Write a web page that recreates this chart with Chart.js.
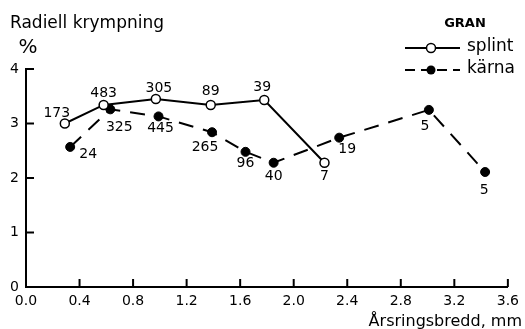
<!DOCTYPE html>
<html>
<head>
<meta charset="utf-8">
<script src="https://cdn.jsdelivr.net/npm/chart.js@4.4.1/dist/chart.umd.min.js"></script>
<style>
  body { margin: 0; background: #fff; }
  canvas { display: block; }
</style>
</head>
<body>
<canvas id="myCanvas" width="525" height="329"></canvas>
<script>
// splint (sapwood) - open circles, solid line
const splintX = [0.29, 0.58, 0.97, 1.38, 1.78, 2.23];
const splintY = [3.00, 3.34, 3.45, 3.34, 3.43, 2.28];
const splintN = [173, 483, 305, 89, 39, 7];

// kärna (heartwood) - filled circles, dashed line
const karnaX = [0.33, 0.63, 0.99, 1.39, 1.64, 1.85, 2.34, 3.01, 3.43];
const karnaY = [2.57, 3.26, 3.13, 2.84, 2.48, 2.28, 2.74, 3.25, 2.11];
const karnaN = [24, 325, 445, 265, 96, 40, 19, 5, 5];

const xTicks = [0.0, 0.4, 0.8, 1.2, 1.6, 2.0, 2.4, 2.8, 3.2, 3.6];
const yTicks = [0, 1, 2, 3, 4];

const FONT = '"DejaVu Sans", sans-serif';

// where each count label sits relative to its marker
const splintLabelOffset = [[-8, -10], [0, -12], [3, -11], [0, -14], [-2, -13], [0, 14]];
const karnaLabelOffset = [[18, 7], [9, 18], [2, 12], [-7, 15], [0, 12], [0, 14], [8, 12], [-4, 16], [-1, 18]];

function toPoints(xs, ys) {
    var pts = [];
    for (var i = 0; i < xs.length; i++) {
        pts.push({ x: xs[i], y: ys[i] });
    }
    return pts;
}

const annotate = {
    id: 'annotate',
    afterDraw(chart) {
        const c = chart.ctx;
        const area = chart.chartArea;
        const xs = chart.scales.x;
        const ys = chart.scales.y;
        c.save();
        c.strokeStyle = '#000';
        c.fillStyle = '#000';
        c.lineWidth = 2;

        // inward tick marks
        for (const v of yTicks) {
            if (v === 0) continue;
            const py = ys.getPixelForValue(v);
            c.beginPath();
            c.moveTo(area.left, py);
            c.lineTo(area.left + 8, py);
            c.stroke();
        }
        for (const v of xTicks) {
            if (v === 0) continue;
            const px = xs.getPixelForValue(v);
            c.beginPath();
            c.moveTo(px, area.bottom);
            c.lineTo(px, area.bottom - 8);
            c.stroke();
        }

        // count labels
        c.font = '14px ' + FONT;
        c.textAlign = 'center';
        c.textBaseline = 'middle';
        const m0 = chart.getDatasetMeta(0).data;
        m0.forEach(function(p, i) {
            c.fillText(String(splintN[i]), p.x + splintLabelOffset[i][0], p.y + splintLabelOffset[i][1]);
        });
        const m1 = chart.getDatasetMeta(1).data;
        m1.forEach(function(p, i) {
            c.fillText(String(karnaN[i]), p.x + karnaLabelOffset[i][0], p.y + karnaLabelOffset[i][1]);
        });

        // titles
        c.textAlign = 'left';
        c.textBaseline = 'alphabetic';
        c.font = '17px ' + FONT;
        c.fillText('Radiell krympning', 10, 28);
        c.font = '20px ' + FONT;
        c.textAlign = 'center';
        c.fillText('%', 28, 53);
        c.font = '16px ' + FONT;
        c.textAlign = 'right';
        c.fillText('Årsringsbredd, mm', 522, 326);

        // legend
        c.font = 'bold 13px ' + FONT;
        c.textAlign = 'center';
        c.fillText('GRAN', 465, 27);

        c.lineWidth = 2;
        c.beginPath();
        c.moveTo(405, 48);
        c.lineTo(460, 48);
        c.stroke();
        c.beginPath();
        c.arc(431, 48, 4.5, 0, Math.PI * 2);
        c.fillStyle = '#fff';
        c.fill();
        c.lineWidth = 1.5;
        c.stroke();

        c.lineWidth = 2;
        c.setLineDash([10, 6]);
        c.beginPath();
        c.moveTo(405, 70);
        c.lineTo(460, 70);
        c.stroke();
        c.setLineDash([]);
        c.fillStyle = '#000';
        c.beginPath();
        c.arc(431, 70, 4.5, 0, Math.PI * 2);
        c.fill();

        c.font = '17px ' + FONT;
        c.textAlign = 'left';
        c.textBaseline = 'middle';
        c.fillText('splint', 467, 47);
        c.fillText('kärna', 467, 69);
        c.restore();
    }
};

const ctx = document.getElementById('myCanvas').getContext('2d');

const chart = new Chart(ctx, {
    type: 'scatter',
    data: {
        datasets: [{
            label: 'splint',
            data: toPoints(splintX, splintY),
            showLine: true,
            borderColor: '#000',
            borderWidth: 2,
            pointRadius: 4.5,
            pointBackgroundColor: '#fff',
            pointBorderColor: '#000',
            pointBorderWidth: 1.5,
        }, {
            label: 'kärna',
            data: toPoints(karnaX, karnaY),
            showLine: true,
            borderColor: '#000',
            borderWidth: 2,
            borderDash: [15, 10],
            pointRadius: 4.5,
            pointBackgroundColor: '#000',
            pointBorderColor: '#000',
            pointBorderWidth: 1,
        }]
    },
    options: {
        responsive: false,
        devicePixelRatio: 1,
        animation: false,
        layout: {
            padding: { left: 0, right: 13, top: 69, bottom: 0 }
        },
        plugins: {
            legend: { display: false },
            tooltip: { enabled: false },
        },
        scales: {
            x: {
                type: 'linear',
                min: 0,
                max: 3.6,
                afterBuildTicks: function(scale) {
                    scale.ticks = xTicks.map(function(v) { return { value: v }; });
                },
                afterFit: function(scale) { scale.height = 42; },
                grid: { drawOnChartArea: false, drawTicks: false },
                border: { display: true, color: '#000', width: 2 },
                ticks: {
                    color: '#000',
                    padding: 6,
                    maxRotation: 0,
                    font: { family: FONT, size: 14 },
                    callback: function(v) { return Number(v).toFixed(1); }
                }
            },
            y: {
                type: 'linear',
                min: 0,
                max: 4,
                afterBuildTicks: function(scale) {
                    scale.ticks = yTicks.map(function(v) { return { value: v }; });
                },
                afterFit: function(scale) { scale.width = 26; },
                grid: { drawOnChartArea: false, drawTicks: false },
                border: { display: true, color: '#000', width: 2 },
                ticks: {
                    color: '#000',
                    padding: 7,
                    font: { family: FONT, size: 14 },
                }
            }
        }
    },
    plugins: [annotate]
});
</script>
</body>
</html>
